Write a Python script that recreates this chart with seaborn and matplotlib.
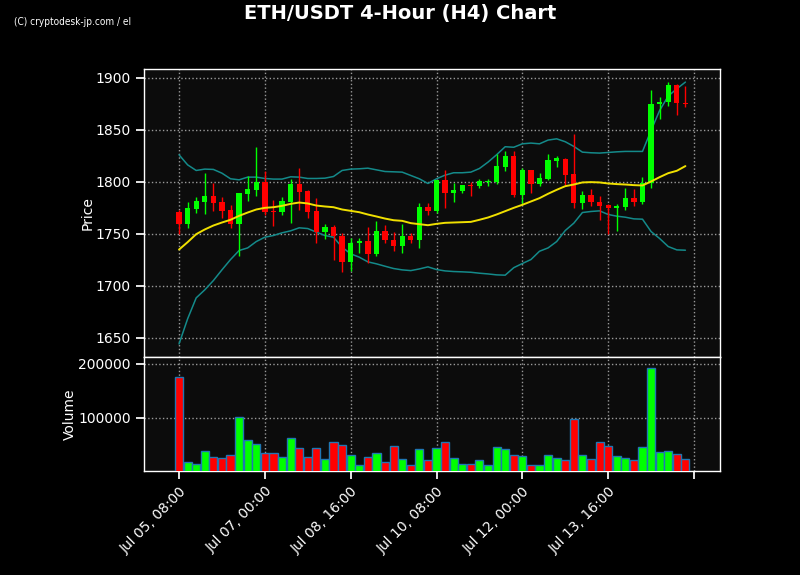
import matplotlib
matplotlib.use("Agg")
import matplotlib.pyplot as plt
import numpy as np
import pandas as pd
import seaborn as sns

# datos de velas H4
open_ = [1770.6, 1759.4, 1773.5, 1780.6, 1786.1, 1780.3, 1772.6, 1759.4, 1788.4, 1791.9,
         1800.0, 1771.6, 1771.0, 1780.3, 1797.7, 1791.0, 1771.6, 1751.6, 1756.8, 1748.1,
         1722.6, 1741.0, 1743.5, 1730.3, 1753.2, 1744.5, 1738.7, 1748.1, 1744.5, 1776.1,
         1772.3, 1801.3, 1789.7, 1791.6, 1796.5, 1795.5, 1800.0, 1799.7, 1814.2, 1824.5,
         1787.1, 1811.0, 1798.0, 1802.9, 1820.3, 1822.0, 1807.4, 1779.7, 1787.7, 1781.0,
         1777.4, 1774.8, 1775.5, 1784.5, 1780.6, 1798.4, 1874.5, 1876.5, 1892.9, 1876.1]
high = [1773.2, 1781.0, 1785.8, 1808.0, 1799.0, 1785.5, 1777.7, 1789.5, 1805.2, 1833.2,
        1810.3, 1782.9, 1785.2, 1802.9, 1812.9, 1792.0, 1784.5, 1759.7, 1758.7, 1750.6,
        1745.8, 1745.8, 1756.5, 1762.3, 1758.4, 1751.6, 1759.0, 1751.0, 1779.4, 1779.7,
        1802.0, 1811.6, 1798.7, 1796.8, 1800.0, 1803.0, 1802.6, 1827.1, 1830.0, 1829.4,
        1813.2, 1811.6, 1808.7, 1826.5, 1825.2, 1823.2, 1845.8, 1791.3, 1793.5, 1786.5,
        1779.0, 1778.4, 1794.5, 1793.5, 1804.8, 1888.1, 1881.3, 1895.8, 1893.5, 1892.0]
low = [1749.4, 1755.8, 1770.3, 1769.4, 1772.3, 1764.8, 1755.8, 1728.7, 1781.9, 1786.8,
       1768.4, 1757.4, 1768.0, 1760.6, 1773.2, 1765.5, 1741.3, 1745.2, 1724.8, 1713.5,
       1714.2, 1731.6, 1721.9, 1729.0, 1741.0, 1733.9, 1731.6, 1741.3, 1736.8, 1767.7,
       1770.0, 1774.8, 1780.6, 1789.0, 1786.1, 1794.2, 1795.5, 1798.0, 1810.3, 1785.0,
       1778.7, 1789.4, 1796.1, 1801.6, 1814.5, 1796.8, 1775.2, 1774.2, 1776.5, 1762.9,
       1750.0, 1752.9, 1773.0, 1776.5, 1779.0, 1794.5, 1860.6, 1873.0, 1864.5, 1872.0]
close = [1759.4, 1774.5, 1781.3, 1786.1, 1779.7, 1771.9, 1759.4, 1789.0, 1792.9, 1800.0,
         1771.0, 1771.0, 1781.3, 1797.7, 1790.3, 1771.0, 1751.9, 1756.8, 1747.7, 1722.6,
         1741.3, 1743.5, 1730.6, 1753.2, 1743.9, 1738.7, 1748.1, 1744.5, 1776.1, 1772.3,
         1801.3, 1789.7, 1792.6, 1796.5, 1796.0, 1800.3, 1800.6, 1814.8, 1824.5, 1787.1,
         1811.0, 1798.0, 1803.5, 1821.0, 1822.6, 1806.5, 1779.7, 1787.7, 1780.6, 1776.8,
         1774.8, 1776.5, 1784.5, 1780.6, 1798.4, 1875.2, 1877.1, 1892.9, 1875.8, 1874.5]
volume = [174500, 18200, 15600, 40000, 27300, 25500, 32700, 101800, 60000, 52700,
          36400, 36400, 27300, 63600, 45500, 27300, 45500, 23600, 56400, 50900,
          30900, 12700, 27300, 36400, 18200, 49100, 23600, 12700, 43600, 21800,
          45500, 56400, 25500, 14500, 14500, 21800, 12700, 47300, 43600, 32700,
          29100, 12700, 12700, 30900, 25500, 21800, 98700, 32700, 23600, 56400,
          49100, 29100, 25500, 21800, 47300, 192700, 38200, 40000, 34500, 23600]

# media movil y bandas de Bollinger
ma = [1734.9, 1742.0, 1749.7, 1754.2, 1758.0, 1760.9, 1763.5, 1767.3, 1770.5, 1773.4,
      1775.0, 1775.6, 1776.9, 1778.8, 1780.1, 1779.2, 1777.2, 1776.3, 1775.6, 1773.4,
      1772.1, 1770.8, 1768.6, 1766.7, 1764.7, 1763.1, 1762.5, 1760.3, 1759.3, 1758.3,
      1759.6, 1760.6, 1760.9, 1761.2, 1761.5, 1763.5, 1765.7, 1768.6, 1771.8, 1775.0,
      1777.9, 1781.1, 1784.3, 1788.5, 1792.3, 1795.8, 1797.4, 1799.4, 1799.7, 1799.4,
      1798.4, 1797.8, 1797.4, 1796.8, 1796.5, 1800.3, 1804.5, 1808.3, 1810.6, 1815.1]
upper = [1826.0, 1816.3, 1810.9, 1812.2, 1811.9, 1808.3, 1802.9, 1801.9, 1804.5, 1804.5,
         1803.2, 1802.6, 1802.6, 1804.8, 1804.5, 1803.2, 1803.2, 1803.5, 1805.1, 1810.9,
         1812.2, 1812.5, 1813.1, 1811.5, 1809.9, 1809.6, 1809.3, 1806.1, 1802.9, 1798.4,
         1802.9, 1806.4, 1808.7, 1808.7, 1809.3, 1812.8, 1818.9, 1826.0, 1833.7, 1833.2,
         1836.5, 1837.2, 1836.5, 1840.1, 1841.3, 1838.5, 1834.0, 1828.5, 1827.9, 1827.6,
         1828.2, 1828.8, 1829.2, 1829.2, 1829.2, 1849.4, 1868.6, 1882.4, 1889.4, 1895.8]
lower = [1644.2, 1668.3, 1688.5, 1696.2, 1705.1, 1715.4, 1725.3, 1734.0, 1736.5, 1742.6,
         1746.8, 1748.4, 1751.0, 1752.9, 1755.8, 1755.1, 1751.6, 1748.4, 1746.8, 1737.2,
         1730.8, 1727.6, 1723.1, 1721.2, 1718.9, 1716.7, 1715.4, 1714.7, 1716.3, 1718.3,
         1715.7, 1714.4, 1713.8, 1713.5, 1713.1, 1712.2, 1711.5, 1710.6, 1710.3, 1717.5,
         1721.5, 1725.3, 1733.3, 1736.5, 1742.6, 1753.2, 1760.3, 1770.5, 1771.5, 1772.1,
         1768.6, 1767.0, 1766.0, 1764.4, 1764.1, 1752.2, 1745.5, 1737.8, 1734.6, 1734.3]

fechas = pd.date_range("2023-07-05 08:00", periods=len(close), freq="4h")
df = pd.DataFrame({"idx": np.arange(len(close)), "open": open_, "high": high, "low": low,
                   "close": close, "volume": volume, "ma": ma, "upper": upper, "lower": lower})
sube = df["close"] >= df["open"]
colores = np.where(sube, "#00ff00", "#ff0000")

sns.set_theme(style="darkgrid", rc={
    "figure.facecolor": "black",
    "axes.facecolor": "#0c0c0c",
    "axes.edgecolor": "white",
    "axes.labelcolor": "white",
    "axes.labelsize": 10,
    "xtick.labelsize": 10,
    "ytick.labelsize": 10,
    "xtick.color": "white",
    "ytick.color": "white",
    "text.color": "white",
    "grid.color": "#9a9a9a",
    "grid.linestyle": ":",
    "grid.linewidth": 1.0,
    "xtick.bottom": True,
    "ytick.left": True,
})
plt.rcParams["font.family"] = ["DejaVu Sans"]

fig = plt.figure(figsize=(8, 5.75), dpi=100)
ax1 = fig.add_axes([0.18, 0.379, 0.72, 0.501])
ax2 = fig.add_axes([0.18, 0.181, 0.72, 0.198], sharex=ax1)

# velas
ax1.vlines(df["idx"], df["low"], df["high"], colors=colores, linewidth=1, zorder=3)
ax1.bar(df["idx"], (df["close"] - df["open"]).abs().clip(lower=0.6),
        bottom=np.minimum(df["open"], df["close"]), width=0.62, color=colores,
        edgecolor="none", linewidth=0, zorder=4)

# media movil y bandas
sns.lineplot(data=df, x="idx", y="ma", ax=ax1, color="#f0e000", linewidth=1.4, zorder=5)
sns.lineplot(data=df, x="idx", y="upper", ax=ax1, color="#148a8a", linewidth=1.1, zorder=2)
sns.lineplot(data=df, x="idx", y="lower", ax=ax1, color="#148a8a", linewidth=1.1, zorder=2)

ax1.set_ylabel("Price", labelpad=1)
ax1.set_xlabel("")
ax1.set_yticks([1650, 1700, 1750, 1800, 1850, 1900])
ax1.tick_params(axis="x", labelbottom=False, length=0)

# volumen
ax2.bar(df["idx"], df["volume"], width=0.95, color=colores, edgecolor="#1f77b4", linewidth=1, zorder=3)
ax2.set_ylabel("Volume", labelpad=1)
ax2.set_ylim(2500, 212000)
ax2.set_yticks([100000, 200000])
ax2.set_yticklabels(["100000", "200000"])

ticks = list(range(0, 61, 10))
etiquetas = [fechas[t].strftime("%b %d, %H:%M") if t < len(fechas) else "" for t in ticks]
ax2.set_xticks(ticks)
ax2.set_xticklabels(etiquetas, rotation=45, ha="right", rotation_mode="anchor")
ax2.set_xlim(-4.08, 63.03)
ax2.set_xlabel("")

for ax in (ax1, ax2):
    ax.grid(True)
    for s in ax.spines.values():
        s.set_color("white")
        s.set_linewidth(1)
    ax.tick_params(colors="white", labelsize=10)

fig.suptitle("ETH/USDT 4-Hour (H4) Chart", fontsize=14, fontweight="bold", color="white", y=0.993)
fig.text(0.018, 0.956, "(C) cryptodesk-jp.com / el", fontsize=7.2, color="white",
         family="DejaVu Sans", fontstretch="condensed")

fig.savefig("out.png", dpi=100, facecolor="black")
